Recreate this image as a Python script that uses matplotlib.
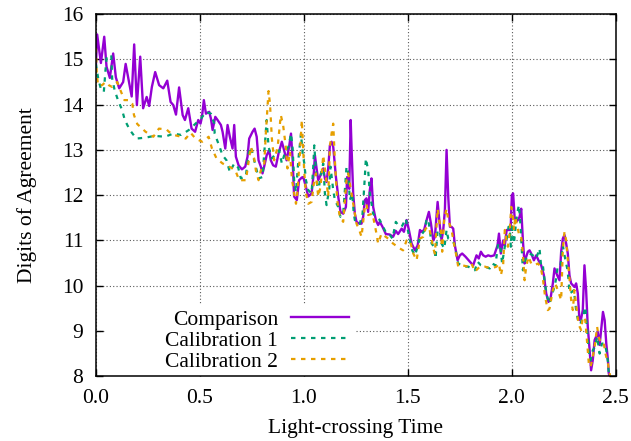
import numpy as np
import matplotlib
matplotlib.use('Agg')
import matplotlib.pyplot as plt
from matplotlib.patches import Rectangle

plt.rcParams['font.family'] = ['Liberation Serif', 'DejaVu Serif']
plt.rcParams['font.size'] = 15.5

# Comparison series
t_comp = [0.000, 0.006, 0.024, 0.040, 0.051, 0.067, 0.083, 0.096, 0.112, 0.131, 0.143,
          0.172, 0.184, 0.197, 0.213, 0.227, 0.244, 0.256, 0.269, 0.285, 0.304, 0.324,
          0.343, 0.359, 0.372, 0.385, 0.400, 0.417, 0.428, 0.444, 0.460, 0.477, 0.492,
          0.503, 0.510, 0.519, 0.529, 0.545, 0.553, 0.561, 0.574, 0.585, 0.601, 0.609,
          0.622, 0.633, 0.644, 0.657, 0.665, 0.673, 0.686, 0.702, 0.718, 0.729, 0.737,
          0.753, 0.763, 0.773, 0.782, 0.793, 0.801, 0.809, 0.821, 0.833, 0.841, 0.852,
          0.865, 0.878, 0.894, 0.905, 0.917, 0.929, 0.938, 0.946, 0.953, 0.966, 0.977,
          0.990, 0.997, 1.010, 1.021, 1.037, 1.048, 1.053, 1.061, 1.069, 1.080, 1.093,
          1.101, 1.109, 1.117, 1.125, 1.133, 1.141, 1.154, 1.165, 1.176, 1.189, 1.202,
          1.208, 1.218, 1.225, 1.229, 1.237, 1.245, 1.253, 1.266, 1.277, 1.285, 1.293,
          1.301, 1.309, 1.317, 1.325, 1.333, 1.346, 1.357, 1.365, 1.378, 1.394, 1.413,
          1.429, 1.442, 1.453, 1.470, 1.481, 1.494, 1.505, 1.518, 1.534, 1.547, 1.558,
          1.566, 1.578, 1.590, 1.601, 1.611, 1.622, 1.630, 1.643, 1.654, 1.662, 1.670,
          1.678, 1.686, 1.694, 1.702, 1.710, 1.718, 1.726, 1.739, 1.750, 1.761, 1.777,
          1.798, 1.814, 1.830, 1.841, 1.851, 1.862, 1.874, 1.886, 1.899, 1.915, 1.931,
          1.938, 1.947, 1.958, 1.966, 1.975, 1.986, 1.994, 2.000, 2.006, 2.013, 2.021,
          2.029, 2.037, 2.045, 2.053, 2.061, 2.069, 2.077, 2.085, 2.093, 2.106, 2.117,
          2.128, 2.141, 2.154, 2.165, 2.176, 2.186, 2.197, 2.205, 2.218, 2.229, 2.237,
          2.245, 2.253, 2.261, 2.269, 2.277, 2.285, 2.293, 2.301, 2.309, 2.317, 2.325,
          2.333, 2.341, 2.349, 2.357, 2.365, 2.374, 2.381, 2.389, 2.398, 2.405, 2.413,
          2.422, 2.429, 2.438, 2.446, 2.454, 2.462, 2.466, 2.475]
y_comp = [14.87, 15.55, 14.92, 15.50, 14.84, 14.59, 15.13, 14.60, 14.36, 14.50, 14.90,
          14.18, 15.33, 13.99, 15.06, 13.92, 14.17, 13.97, 14.39, 14.72, 14.43, 14.36,
          14.53, 14.06, 13.99, 13.78, 14.38, 13.77, 13.66, 13.92, 13.47, 13.40, 13.66,
          13.58, 13.73, 14.10, 13.80, 13.84, 13.69, 13.44, 13.73, 13.66, 13.55, 13.40,
          13.03, 13.55, 13.29, 13.03, 13.55, 12.85, 12.66, 12.57, 12.63, 12.85, 13.25,
          13.40, 13.47, 13.29, 12.77, 12.63, 12.48, 12.63, 12.88, 12.99, 12.77, 12.66,
          12.63, 12.92, 13.18, 12.99, 12.77, 13.07, 13.36, 12.77, 11.97, 11.89, 12.33,
          12.39, 12.40, 12.18, 11.97, 12.04, 12.51, 12.88, 12.59, 12.33, 12.44, 12.59,
          12.37, 12.29, 12.59, 13.10, 13.18, 13.07, 12.40, 11.97, 11.63, 11.59, 11.74,
          12.40, 12.14, 13.66, 13.07, 12.04, 11.59, 11.41, 11.37, 11.37, 11.52, 11.89,
          11.93, 11.63, 12.11, 12.37, 11.74, 11.45, 11.34, 11.41, 11.30, 11.14, 11.13,
          11.08, 11.21, 11.14, 11.26, 11.19, 11.45, 11.23, 10.93, 10.78, 10.89, 11.23,
          11.19, 11.23, 11.45, 11.63, 11.37, 11.00, 11.08, 11.85, 11.30, 11.00, 11.23,
          11.67, 13.00, 11.97, 11.30, 11.30, 11.26, 10.89, 10.56, 10.67, 10.71, 10.64,
          10.53, 10.45, 10.67, 10.60, 10.75, 10.67, 10.64, 10.67, 10.65, 10.67, 10.89,
          11.15, 10.71, 11.00, 10.89, 11.23, 11.23, 11.23, 12.00, 12.04, 11.52, 11.41,
          11.45, 11.52, 11.70, 11.00, 10.49, 10.64, 10.75, 10.78, 10.71, 10.56, 10.67,
          10.56, 10.45, 10.23, 9.83, 9.64, 9.72, 10.05, 10.38, 10.23, 10.12, 10.75,
          11.04, 11.12, 10.93, 10.71, 10.23, 10.05, 10.01, 9.97, 10.05, 9.83, 9.24,
          9.27, 9.46, 10.45, 9.90, 9.09, 8.57, 8.13, 8.35, 8.80, 8.87, 8.98,
          8.69, 9.02, 9.42, 9.24, 8.72, 8.35, 8.06, 7.90]

# Calibration 1
t_cal1 = [0.000, 0.012, 0.024, 0.038, 0.046, 0.052, 0.074, 0.078, 0.090, 0.106, 0.126,
          0.139, 0.163, 0.194, 0.238, 0.282, 0.332, 0.372, 0.410, 0.447, 0.479, 0.505,
          0.529, 0.553, 0.569, 0.571, 0.592, 0.609, 0.628, 0.644, 0.665, 0.684, 0.697,
          0.721, 0.734, 0.745, 0.773, 0.782, 0.801, 0.821, 0.830, 0.846, 0.865, 0.881,
          0.894, 0.910, 0.926, 0.938, 0.946, 0.953, 0.962, 0.974, 0.986, 0.994, 1.002,
          1.010, 1.021, 1.037, 1.045, 1.050, 1.061, 1.069, 1.080, 1.093, 1.101, 1.109,
          1.122, 1.128, 1.141, 1.149, 1.165, 1.176, 1.189, 1.205, 1.213, 1.221, 1.232,
          1.240, 1.245, 1.253, 1.269, 1.282, 1.293, 1.298, 1.309, 1.317, 1.333, 1.346,
          1.365, 1.381, 1.397, 1.413, 1.426, 1.442, 1.453, 1.470, 1.490, 1.506, 1.521,
          1.534, 1.547, 1.558, 1.569, 1.582, 1.590, 1.601, 1.614, 1.626, 1.633, 1.643,
          1.654, 1.662, 1.675, 1.686, 1.694, 1.710, 1.723, 1.734, 1.742, 1.758, 1.774,
          1.790, 1.822, 1.835, 1.851, 1.870, 1.894, 1.905, 1.921, 1.934, 1.945, 1.953,
          1.966, 1.975, 1.984, 1.990, 1.995, 2.000, 2.010, 2.021, 2.029, 2.034, 2.042,
          2.048, 2.053, 2.064, 2.074, 2.085, 2.101, 2.117, 2.133, 2.141, 2.149, 2.160,
          2.170, 2.181, 2.189, 2.205, 2.213, 2.221, 2.234, 2.245, 2.256, 2.266, 2.273,
          2.277, 2.288, 2.298, 2.309, 2.321, 2.330, 2.341, 2.353, 2.362, 2.369, 2.378,
          2.389, 2.400, 2.410, 2.422, 2.433, 2.446, 2.454, 2.462, 2.466, 2.475]
y_cal1 = [14.90, 14.55, 14.35, 14.28, 14.76, 15.06, 15.09, 14.58, 14.32, 14.10, 13.88,
          13.66, 13.44, 13.25, 13.27, 13.31, 13.29, 13.36, 13.33, 13.44, 13.58, 13.69,
          13.84, 13.80, 13.58, 13.36, 13.10, 12.88, 12.77, 12.51, 12.70, 12.61, 12.37,
          12.42, 12.92, 13.07, 12.55, 12.37, 12.40, 13.66, 13.07, 12.81, 12.92, 12.99,
          12.70, 12.96, 13.07, 13.36, 13.03, 12.33, 12.07, 12.81, 13.36, 12.92, 12.70,
          12.33, 12.11, 12.04, 12.63, 13.10, 12.33, 12.04, 12.44, 12.70, 12.04, 11.78,
          12.14, 12.63, 12.11, 11.89, 11.74, 11.52, 11.59, 12.63, 12.51, 11.89, 12.04,
          11.59, 11.45, 11.37, 11.37, 11.59, 12.40, 12.81, 12.55, 12.04, 11.59, 11.52,
          11.45, 11.30, 11.15, 11.12, 11.04, 11.41, 11.34, 11.30, 11.48, 11.08, 10.78,
          10.67, 10.86, 11.08, 11.15, 11.23, 11.48, 11.37, 10.93, 10.86, 10.60, 11.23,
          11.19, 10.93, 10.82, 11.23, 11.04, 11.00, 10.93, 10.67, 10.49, 10.45, 10.42,
          10.42, 10.34, 10.53, 10.45, 10.42, 10.38, 10.49, 10.45, 10.93, 10.85, 10.49,
          10.86, 11.00, 11.30, 11.30, 10.86, 11.37, 10.93, 11.45, 11.67, 11.78, 11.30,
          10.78, 10.34, 10.56, 10.64, 10.71, 10.67, 10.60, 10.82, 10.42, 10.45, 10.01,
          9.75, 9.60, 9.75, 9.97, 10.16, 10.45, 10.45, 10.89, 10.60, 10.38, 10.12,
          9.83, 9.86, 9.90, 9.46, 9.16, 9.16, 9.31, 9.53, 9.02, 8.57, 8.35,
          8.57, 8.65, 8.87, 8.50, 8.72, 8.72, 8.57, 8.32, 8.06, 7.90]

# Calibration 2
t_cal2 = [0.000, 0.004, 0.010, 0.030, 0.046, 0.062, 0.078, 0.102, 0.118, 0.137, 0.159,
          0.175, 0.183, 0.199, 0.239, 0.276, 0.303, 0.340, 0.351, 0.375, 0.410, 0.432,
          0.455, 0.479, 0.511, 0.542, 0.558, 0.580, 0.609, 0.641, 0.670, 0.689, 0.721,
          0.745, 0.761, 0.769, 0.782, 0.793, 0.809, 0.817, 0.830, 0.837, 0.846, 0.857,
          0.874, 0.889, 0.900, 0.913, 0.921, 0.933, 0.942, 0.953, 0.962, 0.970, 0.981,
          0.990, 1.002, 1.010, 1.021, 1.037, 1.048, 1.058, 1.069, 1.080, 1.093, 1.106,
          1.117, 1.125, 1.133, 1.141, 1.149, 1.160, 1.173, 1.189, 1.205, 1.213, 1.221,
          1.240, 1.253, 1.269, 1.277, 1.293, 1.301, 1.309, 1.330, 1.349, 1.357, 1.373,
          1.405, 1.429, 1.462, 1.477, 1.494, 1.510, 1.526, 1.542, 1.558, 1.574, 1.585,
          1.601, 1.614, 1.622, 1.630, 1.643, 1.649, 1.659, 1.665, 1.675, 1.686, 1.694,
          1.710, 1.723, 1.734, 1.742, 1.761, 1.790, 1.806, 1.822, 1.846, 1.870, 1.902,
          1.926, 1.938, 1.947, 1.958, 1.966, 1.975, 1.981, 1.989, 1.997, 2.005, 2.010,
          2.016, 2.037, 2.045, 2.053, 2.061, 2.069, 2.080, 2.093, 2.109, 2.125, 2.138,
          2.149, 2.160, 2.173, 2.181, 2.197, 2.208, 2.221, 2.237, 2.245, 2.253, 2.261,
          2.269, 2.277, 2.285, 2.293, 2.301, 2.314, 2.322, 2.333, 2.341, 2.353, 2.362,
          2.370, 2.378, 2.389, 2.400, 2.410, 2.417, 2.429, 2.442, 2.450, 2.462, 2.470,
          2.478]
y_cal2 = [15.25, 14.69, 14.43, 14.43, 14.50, 14.43, 14.39, 14.50, 14.32, 14.10, 14.10,
          14.02, 13.77, 13.57, 13.40, 13.29, 13.47, 13.45, 13.40, 13.33, 13.29, 13.25,
          13.38, 13.25, 13.18, 13.29, 13.03, 12.81, 12.70, 12.63, 12.55, 12.33, 12.33,
          13.07, 12.81, 12.55, 12.33, 12.55, 12.66, 13.36, 14.30, 14.02, 13.25, 12.77,
          13.07, 13.77, 13.55, 13.07, 12.59, 12.96, 12.37, 12.04, 11.81, 12.11, 12.92,
          13.66, 12.48, 12.04, 11.81, 11.85, 12.26, 12.48, 11.97, 12.18, 12.88, 12.40,
          11.97, 13.07, 13.36, 13.58, 12.77, 11.89, 11.52, 11.41, 12.33, 12.48, 12.26,
          11.74, 11.37, 11.19, 11.08, 11.74, 11.81, 11.56, 11.59, 11.15, 10.93, 11.15,
          11.04, 10.93, 10.82, 10.78, 11.00, 11.00, 10.71, 10.56, 11.04, 11.08, 11.26,
          11.30, 11.04, 10.82, 10.71, 11.70, 11.48, 11.23, 10.75, 11.48, 11.70, 11.45,
          11.23, 10.89, 10.64, 10.42, 10.45, 10.42, 10.49, 10.31, 10.42, 10.42, 10.38,
          10.42, 10.49, 10.23, 10.45, 11.23, 10.97, 10.86, 11.15, 11.74, 11.56, 11.23,
          11.52, 11.08, 11.08, 10.71, 10.12, 10.42, 10.64, 10.49, 10.45, 10.49, 10.42,
          10.16, 9.75, 9.46, 9.49, 9.90, 10.05, 9.90, 9.68, 10.78, 11.19, 11.00,
          10.56, 10.16, 9.68, 9.46, 9.90, 9.38, 9.13, 9.02, 9.31, 9.24, 8.72,
          8.28, 8.20, 8.42, 8.72, 9.09, 8.87, 8.72, 8.72, 8.50, 8.28, 8.06,
          7.90]

xticks = [0.0, 0.5, 1.0, 1.5, 2.0, 2.5]
yticks = [8, 9, 10, 11, 12, 13, 14, 15, 16]

fig = plt.figure(figsize=(6.31, 4.41), dpi=100)
ax = fig.add_axes([0.152, 0.147, 0.824, 0.821])

ax.plot(t_comp, y_comp, color='#9400D3', lw=1.7, label='Comparison')
ax.plot(t_cal1, y_cal1, color='#009E73', lw=1.6, ls=(0, (2, 2.5)), label='Calibration 1')
ax.plot(t_cal2, y_cal2, color='#E69F00', lw=1.6, ls=(0, (2, 2.5)), label='Calibration 2')

ax.set_xlim(0, 2.5)
ax.set_ylim(8, 16)
ax.set_xticks(xticks)
ax.set_xticklabels([f'{v:.1f}' for v in xticks])
ax.set_yticks(yticks)
ax.tick_params(direction='in', length=5, width=1, top=True, right=True)
ax.tick_params(axis='x', pad=9)
ax.tick_params(axis='y', pad=9)
ax.grid(True, color='0.35', ls=(0, (1, 2)), lw=0.8)
ax.set_axisbelow(True)
for s in ax.spines.values():
    s.set_linewidth(1.1)

ax.set_xlabel('Light-crossing Time', labelpad=8)
ax.set_ylabel('Digits of Agreement', labelpad=18)

# opaque key area
ax.add_patch(Rectangle((0.02, 0.0), 0.48, 0.196, transform=ax.transAxes,
                       facecolor='white', edgecolor='none', zorder=1))
leg = ax.legend(loc='lower right', bbox_to_anchor=(0.495, 0.0), frameon=False,
                markerfirst=False, handlelength=2.7, handletextpad=0.6,
                labelspacing=0.05, borderpad=0.2, borderaxespad=0)

fig.savefig('out.png', dpi=100)
